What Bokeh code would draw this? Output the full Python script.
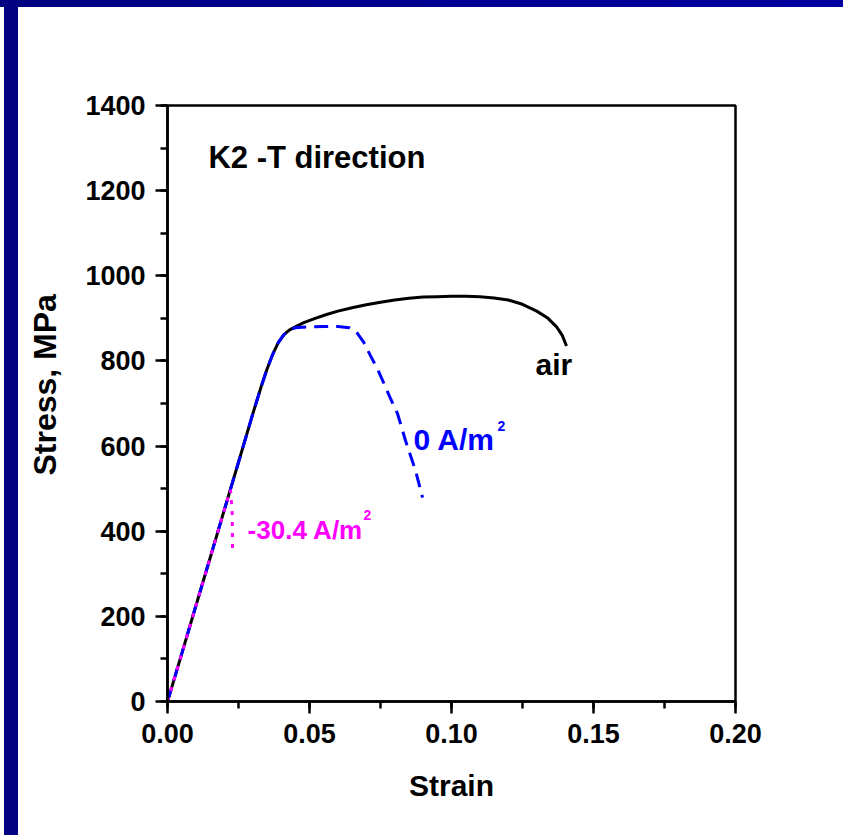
from bokeh.plotting import figure
from bokeh.models import SingleIntervalTicker, PrintfTickFormatter, Range1d, Title
from bokeh.core.properties import value
from bokeh.embed import file_html
from bokeh.resources import INLINE

# Data: strain (mm/mm) vs stress (MPa)
air_strain = [0, 0.005, 0.01, 0.015, 0.02, 0.025, 0.03, 0.033, 0.035, 0.037, 0.039, 0.041,
              0.043, 0.045, 0.048, 0.052, 0.056, 0.06, 0.065, 0.07, 0.075, 0.08, 0.085, 0.09,
              0.095, 0.10, 0.105, 0.11, 0.115, 0.12, 0.125, 0.13, 0.134, 0.137, 0.139, 0.1405]
air_stress = [0, 112, 225, 337, 450, 562, 675, 740, 780, 815, 843, 862,
              873, 880, 890, 900, 909, 917, 925, 932, 938, 943, 947, 950,
              951, 952, 952, 951, 948, 943, 933, 917, 900, 880, 860, 835]

zero_strain = [0, 0.005, 0.01, 0.015, 0.02, 0.025, 0.03, 0.033, 0.035, 0.037, 0.039, 0.041,
               0.043, 0.045, 0.05, 0.055, 0.06, 0.064, 0.0665, 0.069, 0.0715, 0.074, 0.076,
               0.0785, 0.081, 0.0838, 0.0873, 0.0898]
zero_stress = [0, 112, 225, 337, 450, 562, 675, 740, 780, 815, 843, 862,
               873, 878, 880, 881, 881, 878, 868, 845, 812, 780, 750,
               712, 676, 613, 543, 479]

neg_strain = [0, 0.005, 0.01, 0.015, 0.02, 0.0222, 0.0228, 0.0229]
neg_stress = [0, 112, 225, 337, 450, 497, 440, 355]

x_range = (0, 0.20)
y_range = (0, 1400)

FONT = "Liberation Sans"

p = figure(width=843, height=835, output_backend="svg", toolbar_location=None,
           x_range=Range1d(*x_range), y_range=Range1d(*y_range),
           min_border_left=167, min_border_right=108, min_border_top=105,
           min_border_bottom=134)

p.border_fill_color = None
p.background_fill_color = "white"
p.styles = {"background": "linear-gradient(to right,#000080,#0000a0) 0 0/100% 7px no-repeat, "
                          "linear-gradient(#000080,#000080) 4px 0/14px 100% no-repeat, #ffffff"}
p.outline_line_color = "black"
p.outline_line_width = 2.5
p.grid.visible = False

p.xaxis.ticker = SingleIntervalTicker(interval=0.05, num_minor_ticks=2)
p.yaxis.ticker = SingleIntervalTicker(interval=200, num_minor_ticks=2)
p.xaxis.formatter = PrintfTickFormatter(format="%.2f")

for ax in (p.xaxis[0], p.yaxis[0]):
    ax.axis_line_width = 2.5
    ax.axis_line_color = "black"
    ax.major_tick_line_width = 2.5
    ax.minor_tick_line_width = 2.5
    ax.major_tick_in = 0
    ax.major_tick_out = 12
    ax.minor_tick_in = 0
    ax.minor_tick_out = 7
    ax.major_label_text_font = FONT
    ax.major_label_text_font_style = "bold"
    ax.major_label_text_font_size = "27px"
    ax.major_label_text_color = "black"
    ax.axis_label_text_font = FONT
    ax.axis_label_text_font_style = "bold"
    ax.axis_label_text_color = "black"

p.xaxis.axis_label = "Strain"
p.xaxis.axis_label_text_font_size = "30px"
p.xaxis.major_label_standoff = 10
p.yaxis.major_label_standoff = 10
p.xaxis.axis_label_standoff = 23

# y axis title as a side title so it can sit a little above the frame centre
p.add_layout(Title(text="Stress, MPa", align="left", offset=226, standoff=39,
                   text_font=FONT, text_font_style="bold", text_font_size="32px",
                   text_color="black"), "left")

p.line(air_strain, air_stress, line_color="black", line_width=3)
p.line(zero_strain, zero_stress, line_color="#0000ff", line_width=3, line_dash="14 8")
p.line(neg_strain, neg_stress, line_color="#ff00ff", line_width=3, line_dash="4 7")

def label(x, y, txt, color, size):
    p.text(x=[x], y=[y], text=[txt], text_color=color, text_font=value(FONT),
           text_font_style="bold", text_font_size=size,
           text_align="left", text_baseline="alphabetic")

label(0.0144, 1278, "K2 -T direction", "black", "31px")
label(0.1296, 792, "air", "black", "30px")
label(0.0866, 616, "0 A/m", "#0000ff", "30px")
label(0.1162, 648, "2", "#0000ff", "14px")
label(0.0282, 404, "-30.4 A/m", "#ff00ff", "26px")
label(0.0690, 439, "2", "#ff00ff", "14px")

open("out.html", "w").write(file_html(p, INLINE))
